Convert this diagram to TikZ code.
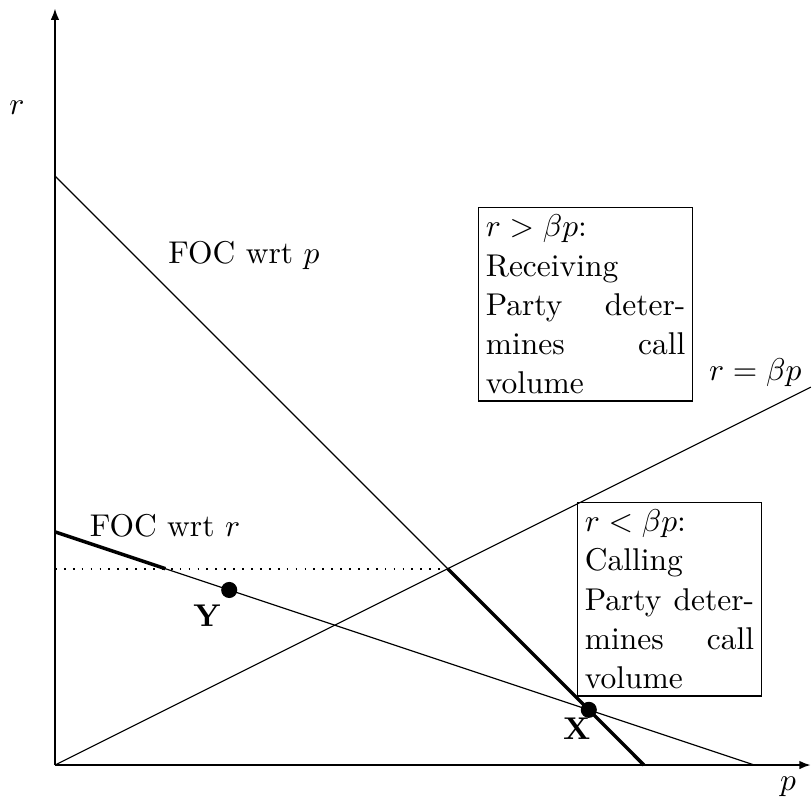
\documentclass[tikz,border=0pt,11pt]{standalone}
\usepackage{amsmath, amssymb}
\usepackage{tikz}
\usetikzlibrary{arrows.meta}

\begin{document}
\begin{tikzpicture}[
    axis/.style={line width=0.7pt, -{Latex[length=4pt, width=3pt]}},
    curve/.style={thin},
    binding/.style={very thick},
    regionbox/.style={draw, thin, anchor=north west, align=left, inner sep=0.09cm},
    eqdot/.style={circle, fill, inner sep=0pt, minimum size=5.6pt},
    ptlabel/.style={font=\bfseries}
]
    \useasboundingbox (-0.672,-0.403) rectangle (9.254,9.352);
    % axes and lines
    \coordinate (O) at (0,0);
    \coordinate (ytop) at (0,9.25);
    \coordinate (xend) at (9.24,0);
    \coordinate (Ptop) at (0,7.2);
    \coordinate (Pend) at (7.2,0);
    \coordinate (Rtop) at (0,2.85);
    \coordinate (Rend) at (8.55,0);
    \coordinate (Bend) at (9.24,4.62);
    \coordinate (Z) at (intersection of Ptop--Pend and O--Bend);
    \coordinate (Zl) at (O |- Z);
    \coordinate (K) at (intersection of Rtop--Rend and Zl--Z);
    \coordinate (X) at (intersection of Ptop--Pend and Rtop--Rend);
    \coordinate (Y) at (2.13,2.14);

    \draw[axis] (O) -- (ytop);
    \draw[axis] (O) -- (xend);
    \node (rlab) at (-0.465,8.04) {$r$};
    \node (plab) at (8.96,-0.27) {$p$};

    \draw[curve] (Ptop) -- (Pend);
    \draw[curve] (Rtop) -- (Rend);
    \draw[curve] (O) -- (Bend);
    \draw[dash pattern=on 0.6pt off 2.5pt, semithick] (Zl) -- (Z);
    \draw[binding] (Rtop) -- (K);
    \draw[binding] (Z) -- (Pend);

    \node (focp) at (2.31,6.23) {FOC wrt $p$};
    \node (focr) at (1.345,2.93) {FOC wrt $r$};
    \node (beta) at (8.56,4.80) {$r=\beta p$};

    % regions
    \node[regionbox, text width=2.44cm] (recv) at (5.17,6.82)
        {$r>\beta p$:\\ Receiving\\ Party \hfill deter-\\ mines \hfill call\\ volume};
    \node[regionbox, text width=2.07cm] (call) at (6.38,3.215)
        {$r<\beta p$:\\ Calling\\ Party \hfill deter-\\ mines \hfill call\\ volume};

    % equilibria
    \node[eqdot] (dotX) at (X) {};
    \node[eqdot] (dotY) at (Y) {};
    \node[ptlabel] (lblX) at (6.38,0.45) {X};
    \node[ptlabel] (lblY) at (1.86,1.83) {Y};
\end{tikzpicture}
\end{document}
